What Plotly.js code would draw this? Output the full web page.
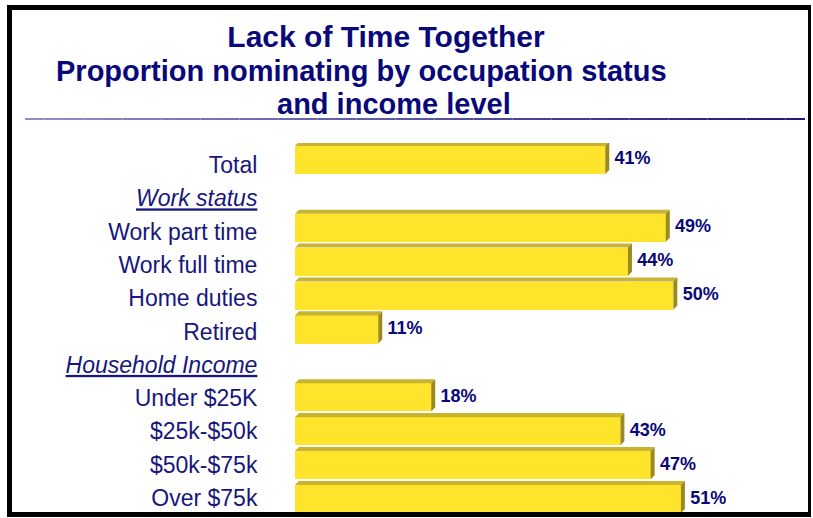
<!DOCTYPE html>
<html>
<head>
<meta charset="utf-8">
<script src="https://cdn.plot.ly/plotly-3.0.1.min.js"></script>
<style>
  html, body { margin: 0; padding: 0; background: #ffffff; }
  #chart { width: 813px; height: 518px; }
</style>
</head>
<body>
<div id="chart"></div>
<script>
// ---- data ----
const categories = ["Total", "Work status", "Work part time", "Work full time", "Home duties", "Retired",
                    "Household Income", "Under $25K", "$25k-$50k", "$50k-$75k", "Over $75k"];
const values = [41, null, 49, 44, 50, 11, null, 18, 43, 47, 51];
const titleLines = ["Lack of Time Together", "Proportion nominating by occupation status", "and income level"];

// ---- layout geometry ----
const W = 813, H = 518;
const M = { l: 295, r: 64, t: 143, b: 2 };
const PW = W - M.l - M.r, PH = H - M.t - M.b;
const px = x => (x - M.l) / PW;
const py = y => (H - M.b - y) / PH;

const navy = '#08087a';
const labelNavy = '#17177c';
const font = 'Liberation Sans, Arial, sans-serif';

const idx = categories.map((c, i) => i);
const barIdx = idx.filter(i => values[i] !== null);
const barW = 0.83;
const dx = 0.53, dy = 0.12;   // 3D depth in axis units
// category labels sit on a slightly tighter pitch than the bars in the original
const labelPos = idx.map(i => 0.15 + i * 0.982);

// faces
const topX = [], topY = [], sideX = [], sideY = [];
barIdx.forEach(i => {
  const v = values[i], y0 = i - barW / 2, y1 = i + barW / 2;
  topX.push(0, v, v + dx, dx, 0, null);
  topY.push(y0, y0, y0 - dy, y0 - dy, y0, null);
  sideX.push(v, v + dx, v + dx, v, v, null);
  sideY.push(y0, y0 - dy, y1 - dy, y1, y0, null);
});

const traces = [
  {
    type: 'bar', orientation: 'h',
    x: barIdx.map(i => values[i]), y: barIdx,
    width: barW,
    marker: { color: '#FFE42C', line: { width: 0 } },
    hoverinfo: 'skip'
  },
  {
    type: 'scatter', mode: 'lines', x: topX, y: topY, fill: 'toself',
    fillcolor: '#C9B430', line: { width: 0, color: '#C9B430' }, hoverinfo: 'skip'
  },
  {
    type: 'scatter', mode: 'lines', x: sideX, y: sideY, fill: 'toself',
    fillcolor: '#9C8A1C', line: { width: 0, color: '#9C8A1C' }, hoverinfo: 'skip'
  },
  {
    type: 'scatter', mode: 'text',
    x: barIdx.map(i => values[i] + dx + 0.7), y: barIdx,
    text: barIdx.map(i => '<b>' + values[i] + '%</b>'),
    textposition: 'middle right',
    textfont: { family: font, size: 18, color: navy },
    hoverinfo: 'skip'
  }
];

// frame + rule
const shapes = [];
const black = '#000000';
[[7, 5, 811, 10], [7, 5, 12, 517], [7, 512, 811, 517], [808, 5, 811, 517]].forEach(r => {
  shapes.push({ type: 'rect', xref: 'paper', yref: 'paper', layer: 'above',
    x0: px(r[0]), x1: px(r[2]), y0: py(r[1]), y1: py(r[3]),
    fillcolor: black, line: { width: 0 } });
});
const segs = 40, rx0 = 25, rx1 = 805;
const c0 = [142, 142, 205], c1 = [28, 28, 120];
for (let k = 0; k < segs; k++) {
  const t = k / (segs - 1);
  const c = c0.map((a, j) => Math.round(a + (c1[j] - a) * t));
  shapes.push({ type: 'line', xref: 'paper', yref: 'paper', layer: 'above',
    x0: px(rx0 + (rx1 - rx0) * k / segs), x1: px(rx0 + (rx1 - rx0) * (k + 1) / segs),
    y0: py(119), y1: py(119),
    line: { color: 'rgb(' + c.join(',') + ')', width: 2 } });
}

const annotations = [
  { text: '<b>' + titleLines[1] + '</b>', x: px(361), y: py(71), size: 29 },
  { text: '<b>' + titleLines[2] + '</b>', x: px(394), y: py(104), size: 29 }
].map(a => ({
  xref: 'paper', yref: 'paper', xanchor: 'center', yanchor: 'middle', showarrow: false,
  text: a.text, x: a.x, y: a.y,
  font: { family: font, size: a.size, color: navy }
}));

const layout = {
  width: W, height: H,
  margin: M,
  paper_bgcolor: '#ffffff', plot_bgcolor: '#ffffff',
  showlegend: false,
  title: {
    text: '<b>' + titleLines[0] + '</b>',
    font: { family: font, size: 30, color: navy },
    x: 386 / W, xanchor: 'center', xref: 'container',
    y: 1 - 36 / H, yanchor: 'middle', yref: 'container'
  },
  xaxis: { range: [0, 60], visible: false, showgrid: false, zeroline: false, fixedrange: true },
  yaxis: {
    range: [10.5, -0.5], showgrid: false, zeroline: false, showline: false,
    tickmode: 'array', tickvals: labelPos,
    ticktext: categories.map((c, i) => values[i] === null ? '<i><u>' + c + '</u></i>' : c),
    ticks: 'outside', ticklen: 32, tickcolor: 'rgba(0,0,0,0)',
    tickfont: { family: font, size: 23, color: labelNavy },
    fixedrange: true
  },
  shapes: shapes,
  annotations: annotations,
  bargap: 0
};

Plotly.newPlot('chart', traces, layout, { displayModeBar: false, staticPlot: true });
</script>
</body>
</html>
